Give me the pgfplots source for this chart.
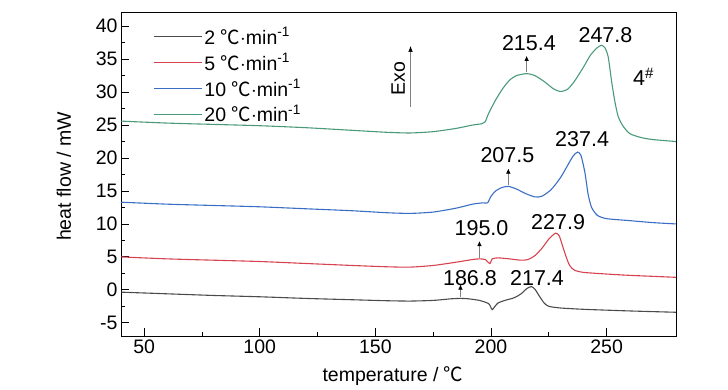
\documentclass[border=0pt]{standalone}
\usepackage{pgfplots}
\pgfplotsset{compat=1.18}
\usepackage{fontspec}
\setmainfont{Liberation Sans}
\newfontfamily\cjk{Noto Sans CJK SC}
\usetikzlibrary{arrows.meta}
\newcommand{\dC}{{\cjk ℃}}
\definecolor{cblack}{RGB}{75,75,75}
\definecolor{cred}{RGB}{214,66,80}
\definecolor{cblue}{RGB}{58,110,196}
\definecolor{cgreen}{RGB}{74,154,122}
\newcommand{\fsz}{\fontsize{19.5bp}{20bp}\selectfont}
\newcommand{\fsa}{\fontsize{21.5bp}{22bp}\selectfont}
\begin{document}
\begin{tikzpicture}
\path[use as bounding box] (0,0) rectangle (728bp,390bp);
\begin{axis}[
  at={(121bp,54bp)}, anchor=south west,
  scale only axis, width=555bp, height=323bp,
  xmin=40, xmax=280, ymin=-7, ymax=42,
  xtick={50,100,150,200,250}, ytick={-5,0,5,10,15,20,25,30,35,40},
  minor x tick num=1, minor y tick num=1,
  tick align=inside, xtick pos=left, ytick pos=left,
  major tick length=7.7bp, minor tick length=3.5bp,
  tick style={black, line width=0.8pt},
  axis line style={line width=1pt},
  ticklabel style={font=\fsz},
  /pgf/number format/assume math mode=true,
  xlabel={temperature / \dC},
  ylabel={heat flow / mW},
  label style={font=\fsz},
  xlabel style={at={(axis description cs:0.49,-0.124)}, anchor=center},
  ylabel style={at={(axis description cs:-0.103,0.494)}, anchor=center},
  legend cell align=left,
  legend style={at={(0.058,0.962)}, anchor=north west, draw=none, fill=none,
    font=\fsz, inner sep=0pt, row sep=3.5bp,
    /tikz/every even column/.append style={column sep=4bp}},
  legend image code/.code={\draw[#1] (0bp,0bp) -- (48bp,0bp);},
  every axis plot/.append style={line width=1.1pt, smooth, tension=0.4},
]
\addplot[cblack] coordinates {
(40,-0.35) (60,-0.6) (80,-0.85) (100,-1.05) (120,-1.3) (140,-1.5) (155,-1.65) (165,-1.7)
(175,-1.6) (183,-1.35) (186.8,-1.3) (190,-1.35) (195,-1.6) (199,-2.1) (200.5,-3.0)
(201.5,-2.6) (203,-2.0) (206,-1.6) (210,-1.2) (213,-0.6) (215.5,0.2) (217.4,0.5)
(219,0.1) (221,-1.0) (223,-2.0) (225,-2.5) (230,-2.75) (240,-2.95) (260,-3.2) (280,-3.4)};
\addlegendentry{2 \dC$\cdot$min\textsuperscript{-1}}
\addplot[cred] coordinates {
(40,5.0) (60,4.7) (80,4.5) (100,4.3) (120,4.0) (140,3.7) (155,3.5) (165,3.45) (175,3.7)
(185,4.2) (192,4.6) (195,4.7) (197.5,4.6) (199.5,4.0) (200.5,4.7) (203,4.85) (208,4.7)
(213,4.5) (216,4.6) (219,5.2) (222,6.3) (225,7.7) (227.9,8.6) (229.5,8.2) (231,6.6)
(232.5,5.0) (234,3.7) (236,3.0) (240,2.65) (250,2.4) (260,2.2) (270,2.05) (280,1.9)};
\addlegendentry{5 \dC$\cdot$min\textsuperscript{-1}}
\addplot[cblue] coordinates {
(40,13.3) (60,13.0) (80,12.8) (100,12.6) (120,12.3) (140,12.0) (155,11.7) (165,11.6)
(175,11.8) (185,12.4) (192,13.0) (196.5,13.2) (198.5,13.2) (200,14.2) (202,15.0)
(204.5,15.5) (207.5,15.7) (211,15.3) (215,14.6) (219,14.1) (222,14.2) (226,15.2)
(230,17.0) (233,18.8) (235.5,20.3) (237.4,20.9) (238.9,20.4) (240.6,17.8) (242,14.5)
(243.5,12.5) (246,11.3) (250,10.8) (260,10.5) (270,10.2) (280,10.0)};
\addlegendentry{10 \dC$\cdot$min\textsuperscript{-1}}
\addplot[cgreen] coordinates {
(40,25.6) (60,25.3) (80,25.1) (100,24.9) (120,24.6) (140,24.2) (155,23.9) (165,23.8)
(175,24.0) (185,24.5) (192,25.0) (196,25.2) (197.5,25.5) (199,26.8) (202,28.8) (205,30.5)
(208,31.8) (211,32.5) (215.4,32.8) (219,32.5) (223,31.6) (227,30.5) (230,30.1) (233,30.4)
(236,31.6) (240,33.8) (243,35.6) (245.8,36.7) (247.8,37.1) (249.3,36.7) (250.7,35.3)
(252.2,31.5) (253.6,28.5) (255,26.3) (257,24.9) (260,23.7) (265,23.1) (270,22.8) (280,22.5)};
\addlegendentry{20 \dC$\cdot$min\textsuperscript{-1}}
% annotations
\draw[gray, line width=0.6pt, -{Latex[length=5bp,width=4.5bp,black]}] (axis cs:186.8,-1.1) -- (axis cs:186.8,0.8);
\draw[gray, line width=0.6pt, -{Latex[length=5bp,width=4.5bp,black]}] (axis cs:195,4.9) -- (axis cs:195,7.4);
\draw[gray, line width=0.6pt, -{Latex[length=5bp,width=4.5bp,black]}] (axis cs:207.5,15.9) -- (axis cs:207.5,18.4);
\draw[gray, line width=0.6pt, -{Latex[length=5bp,width=4.5bp,black]}] (axis cs:215.4,33.0) -- (axis cs:215.4,35.5);
\draw[gray, line width=0.6pt, -{Latex[length=6bp,width=4.5bp,black]}] (axis cs:165.2,27.8) -- (axis cs:165.2,37.0);
\node[font=\fsa] at (axis cs:190.9,1.75) {186.8};
\node[font=\fsa] at (axis cs:219.9,1.85) {217.4};
\node[font=\fsa] at (axis cs:195.9,9.4) {195.0};
\node[font=\fsa] at (axis cs:229,10.3) {227.9};
\node[font=\fsa] at (axis cs:207.1,20.4) {207.5};
\node[font=\fsa] at (axis cs:239.4,22.8) {237.4};
\node[font=\fsa] at (axis cs:216.4,37.4) {215.4};
\node[font=\fsa] at (axis cs:249.5,38.6) {247.8};
\node[font=\fsa] at (axis cs:266,32.3) {4\textsuperscript{\#}};
\node[font=\fsz, rotate=90] at (axis cs:159.9,32.1) {Exo};
\end{axis}
\end{tikzpicture}
\end{document}
